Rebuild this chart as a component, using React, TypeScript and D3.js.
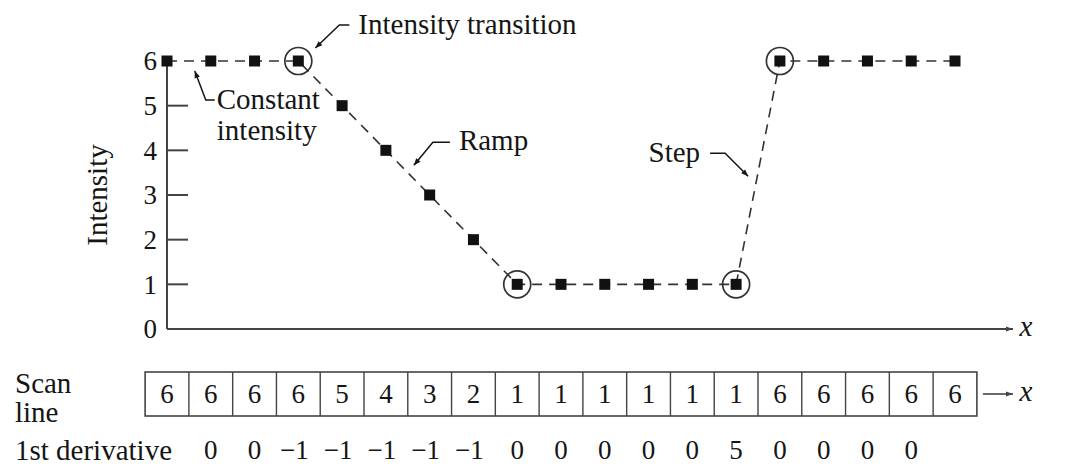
import React from "react";
import * as d3 from "d3";

const scanLine = [6, 6, 6, 6, 5, 4, 3, 2, 1, 1, 1, 1, 1, 1, 6, 6, 6, 6, 6];
const firstDerivative = [0, 0, -1, -1, -1, -1, -1, 0, 0, 0, 0, 0, 5, 0, 0, 0, 0];
const derivativeStart = 1;
const circled = [3, 8, 13, 14];
const yTicks = [0, 1, 2, 3, 4, 5, 6];

const W = 1080;
const H = 468;
const FONT = "'Liberation Serif', 'Times New Roman', serif";
const INK = "#151515";
const FS = 29;

export default function App() {
  const x = d3.scaleLinear().domain([0, scanLine.length - 1]).range([167, 955]);
  const y = d3.scaleLinear().domain([0, 6]).range([329, 61]);
  const step = x(1) - x(0);

  const line = d3
    .line<number>()
    .x((_, i) => x(i))
    .y((d) => y(d));

  const cellTop = 372;
  const cellH = 44;
  const boxLeft = x(0) - step / 2;
  const boxRight = x(scanLine.length - 1) + step / 2;

  const fmt = (v: number) => (v < 0 ? "\u2212" + Math.abs(v) : String(v));

  // annotations anchored to data points, offsets in px
  const ann = [
    { i: 3, v: 6, path: [[51, -36], [41, -36], [17, -13]], text: ["Intensity transition"], tx: 60, ty: -37, anchor: "start" },
    { i: 1, v: 6, path: [[4, 39], [-5, 39], [-16, 10]], text: ["Constant", "intensity"], tx: 6, ty: 38, anchor: "start" },
    { i: 5, v: 4, path: [[64, -8], [47, -8], [28, 15]], text: ["Ramp"], tx: 73, ty: -10, anchor: "start" },
    { i: 13, v: 1, path: [[-26, -131], [-11, -131], [12, -108]], text: ["Step"], tx: -36, ty: -132, anchor: "end" },
  ];

  return (
    <svg width={W} height={H} style={{ position: "absolute", left: 0, top: 0, background: "#fff" }} fontFamily={FONT}>
      <defs>
        <marker id="ah" viewBox="0 0 10 10" refX="10" refY="5" markerWidth="10" markerHeight="7" orient="auto" markerUnits="userSpaceOnUse">
          <path d="M0,1 L10,5 L0,9 Z" fill={INK} />
        </marker>
        <marker id="ax" viewBox="0 0 10 10" refX="10" refY="5" markerWidth="12" markerHeight="7" orient="auto" markerUnits="userSpaceOnUse">
          <path d="M0,1.5 L10,5 L0,8.5 Z" fill="#444" />
        </marker>
      </defs>

      {/* axes */}
      <line x1={x(0)} x2={x(0)} y1={y(0)} y2={y(6)} stroke="#444" strokeWidth={2} />
      <line x1={x(0)} x2={1013} y1={y(0)} y2={y(0)} stroke="#444" strokeWidth={2} markerEnd="url(#ax)" />
      <text x={1026} y={y(0)} dy="0.25em" fontSize={FS} fontStyle="italic" textAnchor="middle" fill={INK}>x</text>
      {yTicks.map((t) => (
        <g key={t}>
          {t > 0 && t < 6 && <line x1={x(0)} x2={x(0) + 21} y1={y(t)} y2={y(t)} stroke="#444" strokeWidth={2} />}
          <text x={157} y={y(t)} dy="0.35em" fontSize={27} textAnchor="end" fill={INK}>{t}</text>
        </g>
      ))}
      <text transform={`translate(97,${y(3)}) rotate(-90)`} dy="0.35em" fontSize={FS} textAnchor="middle" fill={INK}>Intensity</text>

      {/* dashed profile */}
      <path d={line(scanLine) || ""} fill="none" stroke="#333" strokeWidth={1.6} strokeDasharray="10,7" />
      {circled.map((i) => (
        <circle key={i} cx={x(i)} cy={y(scanLine[i])} r={13.5} fill="none" stroke="#333" strokeWidth={1.7} />
      ))}
      {scanLine.map((v, i) => (
        <rect key={i} x={x(i) - 5.5} y={y(v) - 5.5} width={11} height={11} fill="#111" />
      ))}

      {/* annotations */}
      {ann.map((a, k) => {
        const px = x(a.i);
        const py = y(a.v);
        const d = a.path.map((p, j) => `${j ? "L" : "M"}${px + p[0]},${py + p[1]}`).join(" ");
        return (
          <g key={k}>
            <path d={d} fill="none" stroke={INK} strokeWidth={1.5} markerEnd="url(#ah)" />
            {a.text.map((t, j) => (
              <text key={j} x={px + a.tx} y={py + a.ty + j * 31} dy="0.35em" fontSize={FS} textAnchor={a.anchor as any} fill={INK}>{t}</text>
            ))}
          </g>
        );
      })}

      {/* scan line table */}
      <rect x={boxLeft} y={cellTop} width={boxRight - boxLeft} height={cellH} fill="none" stroke="#444" strokeWidth={1.6} />
      {scanLine.map((v, i) => (
        <g key={i}>
          {i > 0 && <line x1={x(i) - step / 2} x2={x(i) - step / 2} y1={cellTop} y2={cellTop + cellH} stroke="#444" strokeWidth={1.4} />}
          <text x={x(i)} y={cellTop + cellH / 2} dy="0.35em" fontSize={27} textAnchor="middle" fill={INK}>{v}</text>
        </g>
      ))}
      <line x1={boxRight + 6} x2={1013} y1={cellTop + cellH / 2} y2={cellTop + cellH / 2} stroke="#444" strokeWidth={1.6} markerEnd="url(#ax)" />
      <text x={1026} y={cellTop + cellH / 2} dy="0.25em" fontSize={FS} fontStyle="italic" textAnchor="middle" fill={INK}>x</text>
      <text x={15} y={383} dy="0.35em" fontSize={FS} fill={INK}>Scan</text>
      <text x={15} y={412} dy="0.35em" fontSize={FS} fill={INK}>line</text>

      {/* derivative */}
      <text x={15} y={450} dy="0.35em" fontSize={FS} fill={INK}>1st derivative</text>
      {firstDerivative.map((v, k) => (
        <text key={k} x={x(k + derivativeStart) + (v < 0 ? -4 : 0)} y={450} dy="0.35em" fontSize={27} textAnchor="middle" fill={INK}>{fmt(v)}</text>
      ))}
    </svg>
  );
}
